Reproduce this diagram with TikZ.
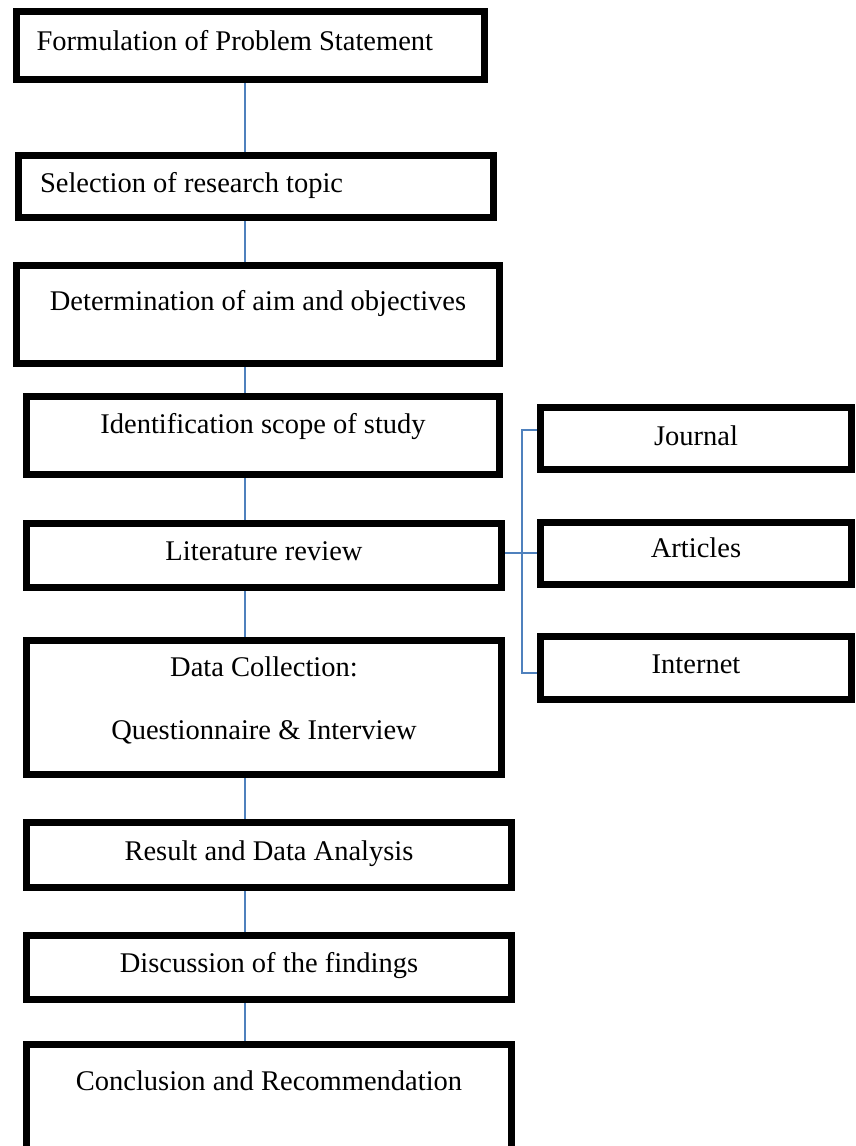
\documentclass[tikz,border=0pt]{standalone}
\usepackage{fontspec}
\setmainfont{Liberation Serif}
\usetikzlibrary{backgrounds}
\definecolor{linkblue}{RGB}{79,129,189}

\begin{document}
\begin{tikzpicture}[x=1pt,y=-1pt,
  box/.style={draw,line width=7pt,inner xsep=20pt,inner ysep=0pt,text height=20pt,
    font=\fontsize{28.5}{34}\selectfont},
  link/.style={draw=linkblue,line width=1.3pt}]
          \useasboundingbox (0,0) rectangle (855,1146);
          \coordinate (spine) at (245,0);
          \coordinate (fork) at (522,553);
          \node[box,text width=428pt,align=flush left,text depth=11pt,minimum height=68pt] (prob) at (250.5,45.5) {Formulation of Problem Statement};
          \node[box,inner xsep=21.5pt,text width=432pt,align=flush left,text depth=9pt,minimum height=62pt] (topic) at (256,186.5) {Selection of research topic};
          \node[box,minimum width=483pt,minimum height=98pt,text depth=29pt] (aim) at (258,314.5) {Determination of aim and objectives};
          \node[box,minimum width=473pt,minimum height=78pt,text depth=25pt] (scope) at (263,435.5) {Identification scope of study};
          \node[box,minimum width=475pt,minimum height=64pt,text depth=11pt] (litrev) at (264,555.5) {Literature review};
          \node[box,minimum width=475pt,minimum height=134pt,text height=,text depth=18pt,align=center] (datacol) at (264,707.5) {Data Collection:\\[29pt]Questionnaire \& Interview};
          \node[box,minimum width=485pt,minimum height=65pt,text depth=10pt] (result) at (269,855) {Result and Data Analysis};
          \node[box,minimum width=485pt,minimum height=64pt,text depth=11pt] (discuss) at (269,967.5) {Discussion of the findings};
          \node[box,minimum width=485pt,minimum height=112pt,text depth=41pt] (concl) at (269,1100.5) {Conclusion and Recommendation};

          \node[box,minimum width=311pt,minimum height=62pt,text depth=7pt] (journal) at (696,438.5) {Journal};
          \node[box,minimum width=311pt,minimum height=62pt,text depth=11pt] (articles) at (696,553) {Articles};
          \node[box,minimum width=311pt,minimum height=63pt,text depth=10pt] (internet) at (696,668) {Internet};

          \begin{scope}[on background layer]
          \draw[link] (prob.south -| spine) -- (topic.north -| spine);
          \draw[link] (topic.south -| spine) -- (aim.north -| spine);
          \draw[link] (aim.south -| spine) -- (scope.north -| spine);
          \draw[link] (scope.south -| spine) -- (litrev.north -| spine);
          \draw[link] (litrev.south -| spine) -- (datacol.north -| spine);
          \draw[link] (datacol.south -| spine) -- (result.north -| spine);
          \draw[link] (result.south -| spine) -- (discuss.north -| spine);
          \draw[link] (discuss.south -| spine) -- (concl.north -| spine);

          \draw[link] ([yshift=8.5pt]journal.west) -| (fork) |- ([yshift=-5pt]internet.west);
          \draw[link] (litrev.east |- fork) -- (articles.west);
          \end{scope}
        \end{tikzpicture}
\end{document}
